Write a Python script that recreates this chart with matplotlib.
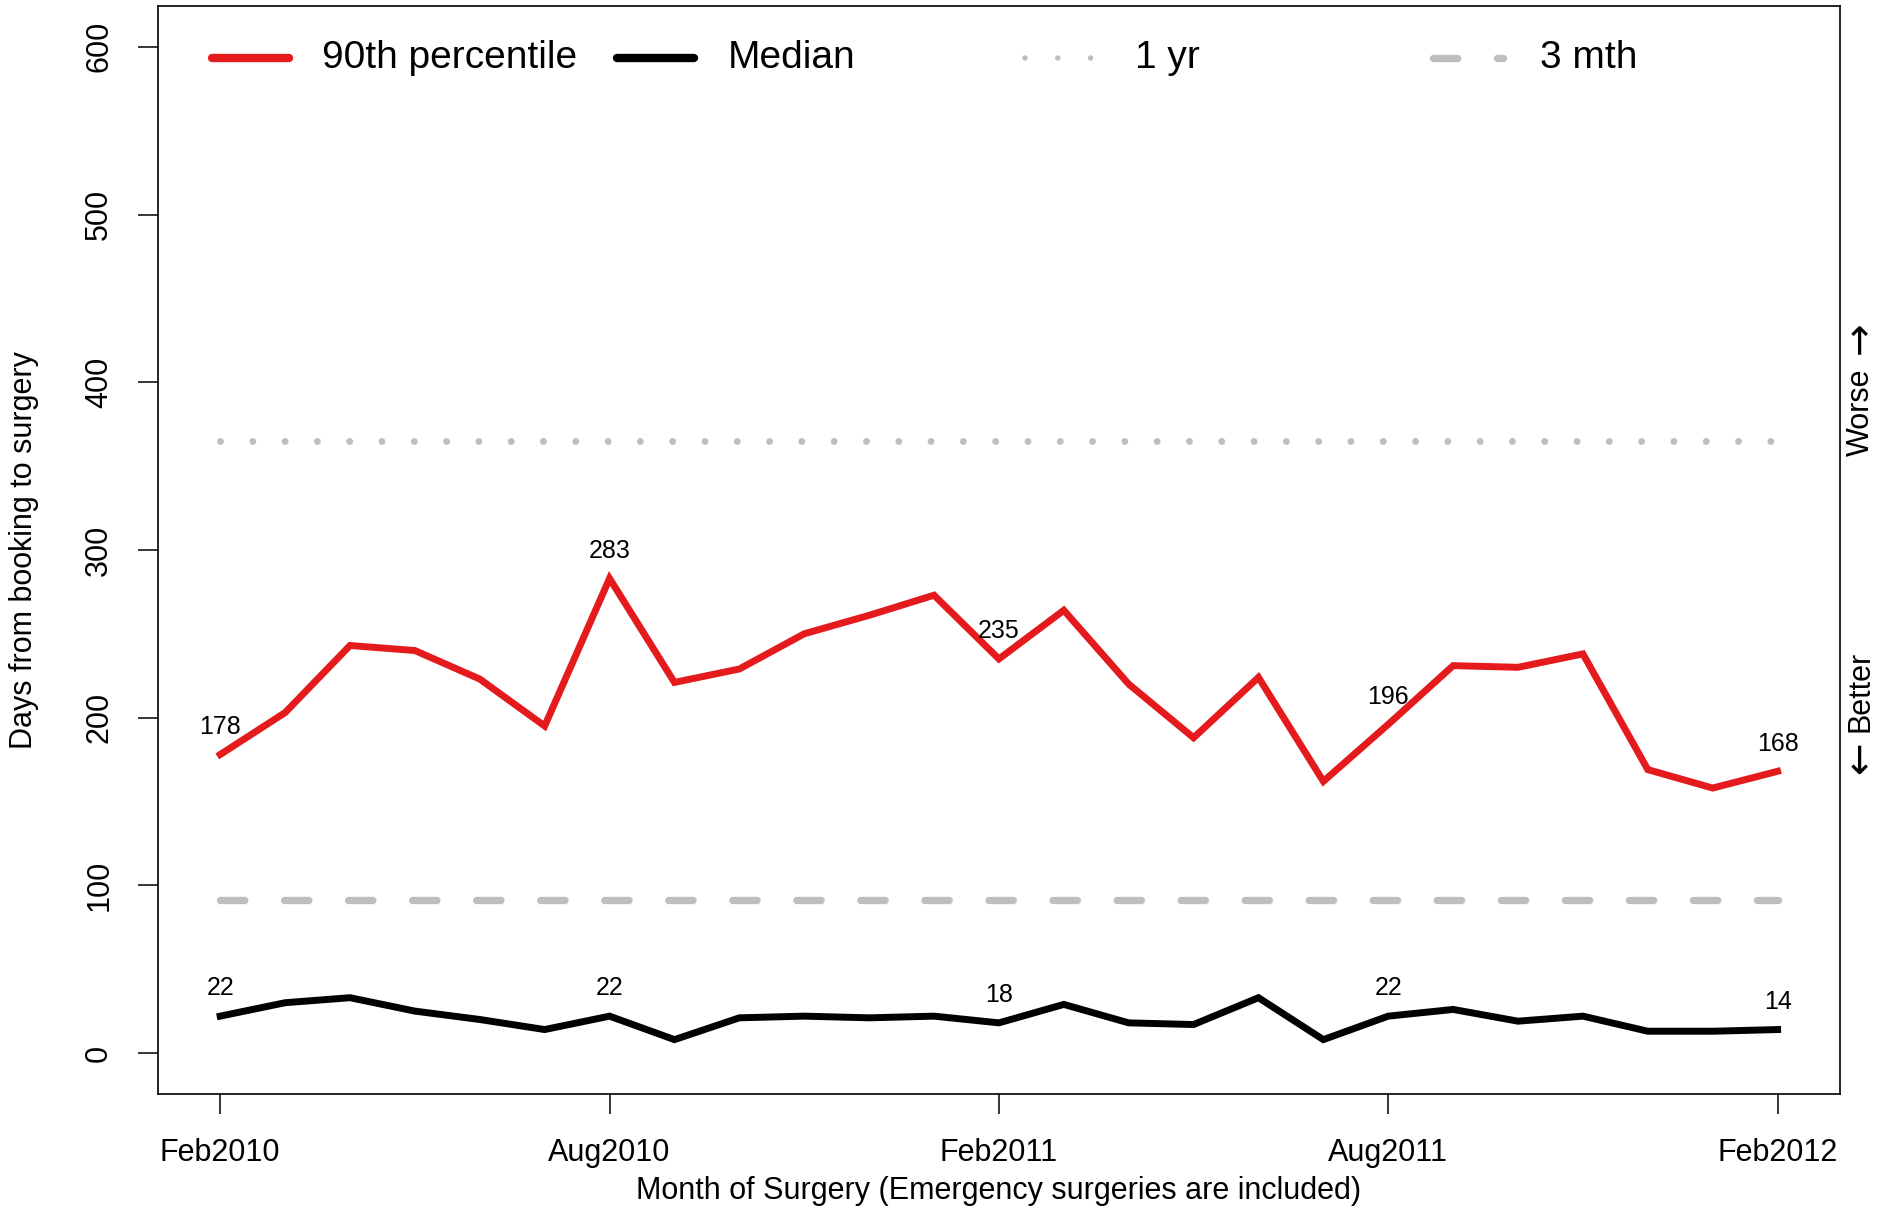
import numpy as np
import matplotlib
matplotlib.use("Agg")
import matplotlib.pyplot as plt
import matplotlib.transforms as mtransforms

plt.rcParams['font.family'] = ['Liberation Sans', 'DejaVu Sans']
plt.rcParams['mathtext.fontset'] = 'dejavusans'

# monthly values, Feb2010 .. Feb2012
months = ['Feb2010', 'Mar2010', 'Apr2010', 'May2010', 'Jun2010', 'Jul2010',
          'Aug2010', 'Sep2010', 'Oct2010', 'Nov2010', 'Dec2010', 'Jan2011',
          'Feb2011', 'Mar2011', 'Apr2011', 'May2011', 'Jun2011', 'Jul2011',
          'Aug2011', 'Sep2011', 'Oct2011', 'Nov2011', 'Dec2011', 'Jan2012',
          'Feb2012']
p90 = [178, 203, 243, 240, 223, 195, 283, 221, 229, 250, 261, 273,
       235, 264, 220, 188, 224, 162, 196, 231, 230, 238, 169, 158, 168]
median = [22, 30, 33, 25, 20, 14, 22, 8, 21, 22, 21, 22,
          18, 29, 18, 17, 33, 8, 22, 26, 19, 22, 13, 13, 14]
one_yr = 365
three_mth = 91
label_idx = [0, 6, 12, 18, 24]

red = '#E41A1C'
grey = '#BEBEBE'
dots = (0, (0.001, 4.65))
dashes = (0, (3.3, 5.4))

fig = plt.figure(figsize=(18.89, 12.08), dpi=100)
ax = fig.add_axes([0.0836, 0.0944, 0.8904, 0.9006])

x = np.arange(len(months))
ax.plot(x, p90, color=red, lw=5, solid_joinstyle='miter', zorder=3)
ax.plot(x, median, color='black', lw=5, solid_joinstyle='miter', zorder=3)
ax.plot([x[0], x[-1]], [one_yr, one_yr], color=grey, lw=5,
        linestyle=dots, dash_capstyle='round')
ax.plot([x[0], x[-1]], [three_mth, three_mth], color=grey, lw=5.3,
        linestyle=dashes, dash_capstyle='round')

for i in label_idx:
    ax.annotate(str(p90[i]), (x[i], p90[i]), xytext=(0, 20),
                textcoords='offset points', ha='center', va='center', fontsize=18)
    ax.annotate(str(median[i]), (x[i], median[i]), xytext=(0, 20),
                textcoords='offset points', ha='center', va='center', fontsize=18)

ax.set_xlim(-0.96, 24.96)
ax.set_ylim(-24.4, 624.3)
ax.set_xticks(label_idx)
ax.set_xticklabels([months[i] for i in label_idx])
ax.set_yticks(range(0, 601, 100))
ax.tick_params(axis='both', labelsize=22, length=14.5, width=1.1, pad=17)
for lbl in ax.get_yticklabels():
    lbl.set_rotation(90)
    lbl.set_va('center')
for s in ax.spines.values():
    s.set_linewidth(1.2)

ax.set_xlabel('Month of Surgery (Emergency surgeries are included)', fontsize=22)
ax.xaxis.set_label_coords(0.5, -0.0753)
ax.set_ylabel('Days from booking to surgery', fontsize=22)
ax.yaxis.label.set_va('center')
ax.yaxis.set_label_coords(-0.0795, 0.5)

# right-side direction labels, arrows as mathtext for a longer glyph
trans = mtransforms.blended_transform_factory(ax.transAxes, ax.transData)
ax.text(1.0125, 356, 'Worse', rotation=90, transform=trans,
        ha='center', va='bottom', fontsize=22, clip_on=False)
ax.text(1.0125, 411, r'$\rightarrow$', rotation=90, transform=trans,
        ha='center', va='bottom', fontsize=28, clip_on=False)
ax.text(1.0125, 240, 'Better', rotation=90, transform=trans,
        ha='center', va='top', fontsize=22, clip_on=False)
ax.text(1.0125, 185, r'$\leftarrow$', rotation=90, transform=trans,
        ha='center', va='top', fontsize=28, clip_on=False)

# legend drawn horizontally like base-R legend(horiz=TRUE)
ly = 0.952
tA = ax.transAxes
ax.plot([0.0322, 0.0781], [ly, ly], color=red, lw=6, solid_capstyle='round', transform=tA)
ax.text(0.0974, ly, '90th percentile', transform=tA, va='center', fontsize=28)
ax.plot([0.2729, 0.3188], [ly, ly], color='black', lw=6, solid_capstyle='round', transform=tA)
ax.text(0.3388, ly, 'Median', transform=tA, va='center', fontsize=28)
ax.plot([0.5155, 0.556], [ly, ly], color=grey, lw=4, linestyle=(0, (0.001, 5.9)),
        dash_capstyle='round', transform=tA)
ax.text(0.581, ly, '1 yr', transform=tA, va='center', fontsize=28)
ax.plot([0.758, 0.800], [ly, ly], color=grey, lw=5.3, linestyle=dashes,
        dash_capstyle='round', transform=tA)
ax.text(0.8216, ly, '3 mth', transform=tA, va='center', fontsize=28)

fig.savefig('out.png', dpi=100)
